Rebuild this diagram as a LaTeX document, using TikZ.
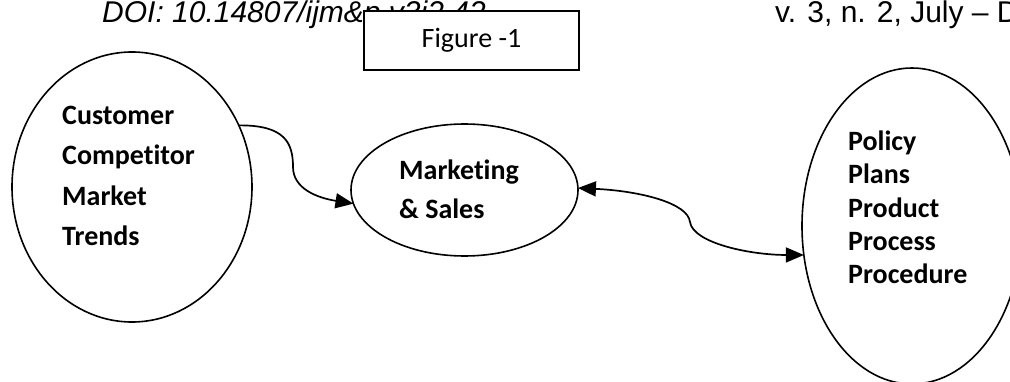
\documentclass[tikz,border=0pt]{standalone}
\usepackage{fontspec}
\setmainfont{Carlito}[Ligatures=NoCommon]
\newfontfamily\arialf{Liberation Sans}
\usetikzlibrary{arrows.meta,shapes.geometric}
\begin{document}
\begin{tikzpicture}[x=1pt,y=1pt,
  blob/.style={draw=black,line width=1.6pt,ellipse,inner sep=0pt,outer sep=0pt},
  lbl/.style={anchor=base west,inner sep=0pt,font=\fontsize{28}{33}\selectfont\bfseries},
  hdr/.style={anchor=base west,inner sep=0pt,font=\arialf\fontsize{30}{32}\selectfont},
  conn/.style={line width=1.7pt,{Triangle[length=18pt,width=15pt]}-{Triangle[length=18pt,width=15pt]}},
  conn1/.style={line width=1.7pt,-{Triangle[length=18pt,width=15pt]}},
]
\useasboundingbox (0,0) rectangle (1010,381);
\begin{scope}
\clip (0,0) rectangle (1010,381);
\node[hdr,font=\arialf\itshape\fontsize{30}{32}\selectfont] (doi) at (102,358) {DOI: 10.14807/ijm\&p.v3i2.42};
\node[hdr] (vol) at (775,358) {v. 3, n. 2, July – D};
\node[draw=black,fill=white,line width=1.3pt,minimum width=215pt,minimum height=59pt,
  font=\fontsize{28}{30}\selectfont] (fig) at (471.5,340.5) {Figure -1};
\node[blob,minimum width=240pt,minimum height=270pt] (L) at (132,194) {};
\node[blob,minimum width=227pt,minimum height=132pt] (M) at (464.5,191) {};
\node[blob,minimum width=220pt,minimum height=316pt] (R) at (912,155) {};
\end{scope}
\node[lbl] (l1) at (62,256) {Customer};
\node[lbl] (l2) at (62,216) {Competitor};
\node[lbl] (l3) at (62,176) {Market};
\node[lbl] (l4) at (62,136) {Trends};
\node[lbl] (m1) at (399,202) {Marketing};
\node[lbl] (m2) at (399,163) {\& Sales};
\node[lbl] (r1) at (848,230) {Policy};
\node[lbl] (r2) at (848,197) {Plans};
\node[lbl] (r3) at (848,164) {Product};
\node[lbl] (r4) at (848,131) {Process};
\node[lbl] (r5) at (848,98) {Procedure};
\draw[conn1] (L.30) .. controls (285,256) and (293,238) .. (293,214)
  .. controls (293,192) and (318,183) .. (M.187);
\draw[conn] (M.1) .. controls (640,190) and (688,178) .. (690,159)
  .. controls (693,138) and (750,126) .. (R.195);
\end{tikzpicture}
\end{document}
